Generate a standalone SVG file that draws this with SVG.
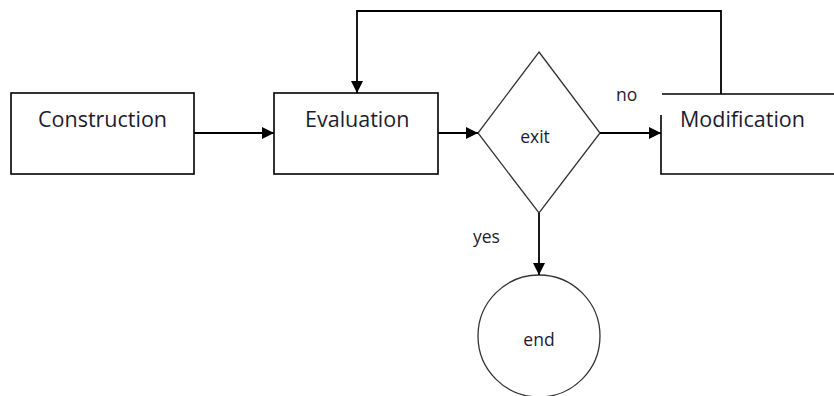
<svg xmlns="http://www.w3.org/2000/svg" width="834" height="396" viewBox="0 0 834 396">
<style>
.box{fill:#fff;stroke:#000;stroke-width:1.6}
.shape{fill:#fff;stroke:#333;stroke-width:1.3}
.conn{fill:none;stroke:#000;stroke-width:1.8}
.lbl{font-family:"Open Sans","Liberation Sans",sans-serif;fill:#1c1c30}
.big{font-size:21.5px}
.small{font-size:17.5px}
</style>
<defs>
<marker id="arr" markerWidth="12" markerHeight="12" refX="12" refY="6" orient="auto" markerUnits="userSpaceOnUse">
<path d="M0,0 L12,6 L0,12 Z" fill="#000"/>
</marker>
</defs>
<rect width="834" height="396" fill="#fff"/>
<g id="construction">
<rect class="box" x="11" y="93" width="183" height="81"/>
<text class="lbl big" x="38" y="127">Construction</text>
</g>
<g id="evaluation">
<rect class="box" x="274" y="93" width="164" height="81"/>
<text class="lbl big" x="305" y="127">Evaluation</text>
</g>
<g id="exit">
<polygon class="shape" points="539,52 600,133 539,213 478,133"/>
<text class="lbl small" x="535" y="143" text-anchor="middle">exit</text>
</g>
<g id="modification">
<path class="box" d="M662,94 H834 M661,115 V174 H834" fill="none"/>
<text class="lbl big" x="680" y="127">Modification</text>
</g>
<g id="end">
<circle class="shape" cx="539" cy="336" r="61"/>
<text class="lbl small" x="539" y="346" text-anchor="middle">end</text>
</g>
<g id="connectors">
<line class="conn" x1="194" y1="133" x2="274" y2="133" marker-end="url(#arr)"/>
<line class="conn" x1="438" y1="133" x2="478" y2="133" marker-end="url(#arr)"/>
<line class="conn" x1="600" y1="133" x2="661" y2="133" marker-end="url(#arr)"/>
<polyline class="conn" points="721,94 721,11 357,11 357,93" marker-end="url(#arr)"/>
<line class="conn" x1="539" y1="213" x2="539" y2="275" marker-end="url(#arr)"/>
<text class="lbl small" x="616" y="101">no</text>
<text class="lbl small" x="473" y="243">yes</text>
</g>
</svg>
